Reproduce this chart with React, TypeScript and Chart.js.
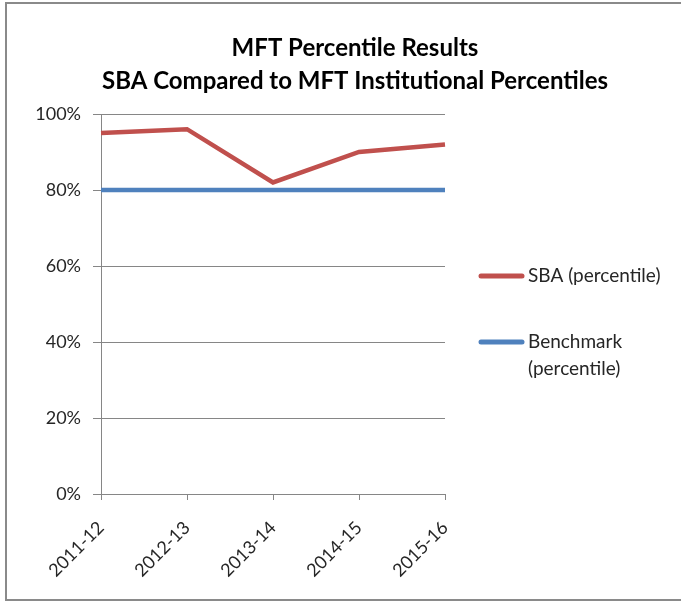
import React, { useEffect, useRef } from "react";
import { Chart, registerables } from "chart.js";

Chart.register(...registerables);

const categories = ["2011-12", "2012-13", "2013-14", "2014-15", "2015-16"];
const sbaValues = [95, 96, 82, 90, 92];
const benchmarkValues = [80, 80, 80, 80, 80];
const seriesLabels = ["SBA (percentile)", "Benchmark (percentile)"];
const titleLines = ["MFT Percentile Results", "SBA Compared to MFT Institutional Percentiles"];
const yTickStep = 20;

const FONT = "Lato, 'Open Sans', sans-serif";
const RED = "#C0504D";
const BLUE = "#4F81BD";
const GRID = "#868686";
const TEXT = "#262626";

const framePlugin = {
  id: "frame",
  beforeDraw(chart: any) {
    const ctx = chart.ctx;
    ctx.save();
    ctx.fillStyle = "#fff";
    ctx.fillRect(0, 0, chart.width, chart.height);
    ctx.strokeStyle = "#8a8a8a";
    ctx.lineWidth = 2;
    ctx.beginPath();
    ctx.moveTo(chart.width + 5, 3);
    ctx.lineTo(6, 3);
    ctx.lineTo(6, 600);
    ctx.lineTo(chart.width + 5, 600);
    ctx.stroke();
    ctx.restore();
  },
  afterDraw(chart: any) {
    const ctx = chart.ctx;
    ctx.save();
    // title
    ctx.fillStyle = "#000";
    ctx.textAlign = "center";
    ctx.textBaseline = "middle";
    ctx.font = `bold 24px ${FONT}`;
    ctx.fillText(titleLines[0], 355, 48);
    ctx.fillText(titleLines[1], 355, 81);
    // legend
    ctx.textAlign = "left";
    ctx.font = `19px ${FONT}`;
    const rows = [276, 342];
    chart.data.datasets.forEach((ds: any, i: number) => {
      const y = rows[i];
      ctx.strokeStyle = ds.borderColor;
      ctx.lineWidth = 5;
      ctx.lineCap = "round";
      ctx.beginPath();
      ctx.moveTo(481, y);
      ctx.lineTo(522, y);
      ctx.stroke();
      ctx.fillStyle = TEXT;
      const words = String(ds.label).split(" ");
      const lines: string[] = [];
      let cur = "";
      for (const w of words) {
        const test = cur ? cur + " " + w : w;
        if (ctx.measureText(test).width > 148 && cur) {
          lines.push(cur);
          cur = w;
        } else cur = test;
      }
      if (cur) lines.push(cur);
      lines.forEach((ln, k) => ctx.fillText(ln, 528, y + k * 27));
    });
    ctx.restore();
  },
};

export default function App() {
  const ref = useRef<HTMLCanvasElement>(null);
  useEffect(() => {
    if (!ref.current) return;
    const chart = new Chart(ref.current, {
      type: "line",
      data: {
        labels: categories,
        datasets: [
          {
            label: seriesLabels[0],
            data: sbaValues,
            borderColor: RED,
            backgroundColor: RED,
            borderWidth: 4.5,
            pointRadius: 0,
            tension: 0,
          },
          {
            label: seriesLabels[1],
            data: benchmarkValues,
            borderColor: BLUE,
            backgroundColor: BLUE,
            borderWidth: 4.5,
            pointRadius: 0,
            tension: 0,
          },
        ],
      },
      options: {
        responsive: false,
        animation: false,
        layout: { padding: { top: 114, right: 236, left: 0, bottom: 0 } },
        plugins: { legend: { display: false }, title: { display: false }, tooltip: { enabled: false } },
        scales: {
          x: {
            type: "category",
            offset: false,
            grid: { drawOnChartArea: false, drawTicks: true, tickLength: 6, color: GRID },
            border: { color: GRID, width: 1 },
            ticks: {
              minRotation: 45,
              maxRotation: 45,
              color: TEXT,
              font: { family: FONT, size: 18 },
              padding: 17,
            },
            afterFit(s: any) {
              s.height = 108;
            },
          },
          y: {
            min: 0,
            max: 100,
            grid: { color: GRID, tickLength: 8 },
            border: { color: GRID, width: 1 },
            ticks: {
              stepSize: yTickStep,
              color: TEXT,
              padding: 12,
              font: { family: FONT, size: 18 },
              callback: (v: any) => v + "%",
            },
            afterFit(s: any) {
              s.width = 101;
            },
          },
        },
      },
      plugins: [framePlugin],
    });
    return () => chart.destroy();
  }, []);
  return (
    <div style={{ position: "absolute", left: 0, top: 0 }}>
      <canvas ref={ref} width={681} height={602} />
    </div>
  );
}
